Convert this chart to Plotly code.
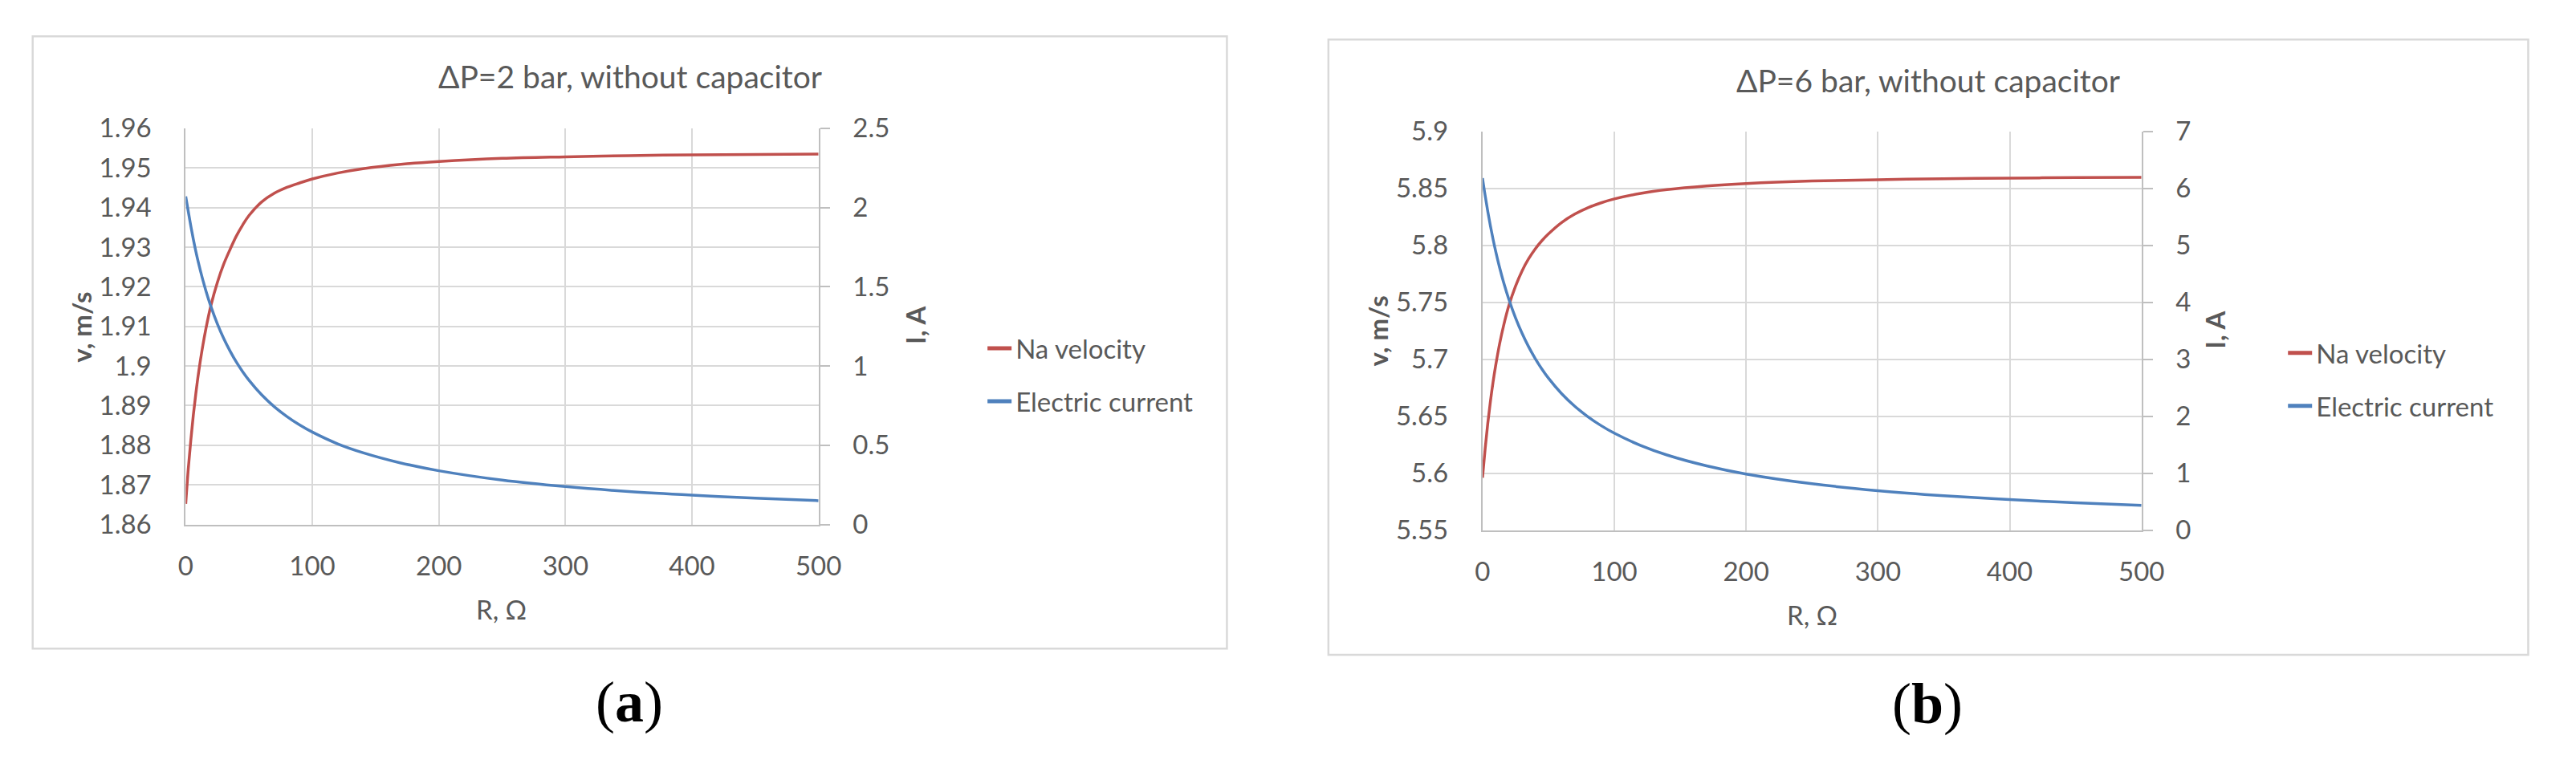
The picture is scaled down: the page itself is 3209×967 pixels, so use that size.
import plotly.graph_objects as go

W, H = 3209, 967
OFF = 8  # default body margin of the written html page

# ---------------- data ----------------
R = [0, 2, 4, 6, 8, 10, 13, 16, 20, 25, 30, 35, 40, 45, 50, 60, 70, 80, 90, 100,
     120, 140, 170, 200, 250, 300, 350, 400, 450, 500]

v_a = [1.8652, 1.8740, 1.8812, 1.8876, 1.8931, 1.8980, 1.9042, 1.9095, 1.9154, 1.9211,
       1.9257, 1.9294, 1.9328, 1.9356, 1.9380, 1.9414, 1.9436, 1.9451, 1.9462, 1.9472,
       1.9487, 1.9498, 1.9509, 1.9516, 1.9524, 1.9528, 1.9531, 1.9533, 1.9534, 1.9535]
I_a = [2.07, 1.976, 1.884, 1.80, 1.723, 1.653, 1.558, 1.473, 1.373, 1.266,
       1.174, 1.095, 1.025, 0.964, 0.910, 0.818, 0.743, 0.681, 0.628, 0.583,
       0.509, 0.453, 0.388, 0.339, 0.280, 0.239, 0.208, 0.185, 0.166, 0.150]

v_b = [5.596, 5.6214, 5.6438, 5.663, 5.6799, 5.6946, 5.7137, 5.7295, 5.7471, 5.7640,
       5.7775, 5.7882, 5.7968, 5.8040, 5.8100, 5.8200, 5.8274, 5.8330, 5.8373, 5.8407,
       5.8456, 5.8489, 5.8521, 5.8542, 5.8564, 5.8576, 5.8585, 5.8590, 5.8594, 5.8597]
I_b = [6.18, 5.875, 5.595, 5.341, 5.109, 4.896, 4.608, 4.352, 4.052, 3.730,
       3.456, 3.219, 3.013, 2.831, 2.670, 2.398, 2.176, 1.992, 1.836, 1.703,
       1.487, 1.320, 1.130, 0.987, 0.816, 0.695, 0.606, 0.537, 0.482, 0.437]

titles = ["ΔP=2 bar, without capacitor", "ΔP=6 bar, without capacitor"]
series_names = ["Na velocity", "Electric current"]
panel_labels = ["(<b>a</b>)", "(<b>b</b>)"]
x_title = "R, Ω"
y_left_title = "v, m/s"
y_right_title = "I, A"
x_ticks = [0, 100, 200, 300, 400, 500]
ya_left_ticks = [1.86, 1.87, 1.88, 1.89, 1.90, 1.91, 1.92, 1.93, 1.94, 1.95, 1.96]
ya_left_text = ["1.86", "1.87", "1.88", "1.89", "1.9", "1.91", "1.92", "1.93", "1.94", "1.95", "1.96"]
ya_right_ticks = [0, 0.5, 1, 1.5, 2, 2.5]
yb_left_ticks = [5.55, 5.60, 5.65, 5.70, 5.75, 5.80, 5.85, 5.90]
yb_left_text = ["5.55", "5.6", "5.65", "5.7", "5.75", "5.8", "5.85", "5.9"]
yb_right_ticks = [0, 1, 2, 3, 4, 5, 6, 7]

# ---------------- styling ----------------
RED = "#C0504D"
BLUE = "#4F81BD"
TXT = "#595959"
GRID = "#D9D9D9"
AXL = "#BFBFBF"
FONT = "Lato, Carlito, Calibri, sans-serif"
FS = 33


def px(x):
    return (x - OFF) / W


def py(y):
    return 1 - (y - OFF) / H


fig = go.Figure()

line_common = dict(width=3.5, shape="spline", smoothing=1.0)

# panel a
fig.add_trace(go.Scatter(x=R, y=v_a, name=series_names[0], mode="lines",
                         line=dict(color=RED, **line_common),
                         xaxis="x", yaxis="y", legend="legend", legendgroup="a1"))
fig.add_trace(go.Scatter(x=R, y=I_a, name=series_names[1], mode="lines",
                         line=dict(color=BLUE, **line_common),
                         xaxis="x", yaxis="y2", legend="legend", legendgroup="a2"))
# panel b
fig.add_trace(go.Scatter(x=R, y=v_b, name=series_names[0], mode="lines",
                         line=dict(color=RED, **line_common),
                         xaxis="x2", yaxis="y3", legend="legend2", legendgroup="b1"))
fig.add_trace(go.Scatter(x=R, y=I_b, name=series_names[1], mode="lines",
                         line=dict(color=BLUE, **line_common),
                         xaxis="x2", yaxis="y4", legend="legend2", legendgroup="b2"))

tickfont = dict(family=FONT, size=FS, color=TXT)

xa_dom = [px(224), px(1022)]
ya_dom = [py(659.5), py(144.5)]
xb_dom = [px(1859.3), px(2690.3)]
yb_dom = [py(667), py(148.5)]


def xaxis(dom, anchor):
    return dict(domain=dom, anchor=anchor, range=[0, 500], tickvals=x_ticks,
                showgrid=True, gridcolor=GRID, gridwidth=2, zeroline=False,
                showline=True, linecolor=AXL, linewidth=2, ticks="",
                tickfont=tickfont, ticklabelstandoff=22, fixedrange=True)


def yleft(dom, anchor, rng, tv, tt):
    return dict(domain=dom, anchor=anchor, range=rng, tickvals=tv, ticktext=tt,
                showgrid=True, gridcolor=GRID, gridwidth=2, zeroline=False,
                showline=True, linecolor=AXL, linewidth=2, ticks="",
                tickfont=tickfont, ticklabelstandoff=34, fixedrange=True)


def yright(overlay, anchor, rng, tv):
    return dict(overlaying=overlay, anchor=anchor, side="right", range=rng, tickvals=tv,
                showgrid=False, zeroline=False, showline=True, linecolor=AXL, linewidth=2,
                ticks="outside", ticklen=12, tickwidth=2, tickcolor=AXL,
                tickfont=tickfont, ticklabelstandoff=22, fixedrange=True)


legend_common = dict(font=dict(family=FONT, size=FS, color=TXT), bgcolor="rgba(0,0,0,0)",
                     traceorder="grouped", tracegroupgap=20, itemsizing="constant",
                     xanchor="left", yanchor="middle")

fig.update_layout(
    width=W, height=H, autosize=False,
    margin=dict(l=0, r=0, t=0, b=0),
    paper_bgcolor="white", plot_bgcolor="white",
    font=dict(family=FONT, color=TXT),
    xaxis=xaxis(xa_dom, "y"),
    yaxis=yleft(ya_dom, "x", [1.86, 1.96], ya_left_ticks, ya_left_text),
    yaxis2=yright("y", "x", [0, 2.5], ya_right_ticks),
    xaxis2=xaxis(xb_dom, "y3"),
    yaxis3=yleft(yb_dom, "x2", [5.55, 5.90], yb_left_ticks, yb_left_text),
    yaxis4=yright("y3", "x2", [0, 7], yb_right_ticks),
    legend=dict(x=px(1230), y=py(465), **legend_common),
    legend2=dict(x=px(2870), y=py(471), **legend_common),
    showlegend=True,
)

# panel borders
for (x0, y0, x1, y1) in [(31, 25, 1537, 821), (1665, 29, 3178, 829)]:
    fig.add_shape(type="rect", xref="paper", yref="paper",
                  x0=px(x0), x1=px(x1), y0=py(y1), y1=py(y0),
                  line=dict(color=GRID, width=2.5), fillcolor="rgba(0,0,0,0)", layer="below")

ann = []
# chart titles
ann.append(dict(text=titles[0], x=px(784), y=py(77), font=dict(family=FONT, size=39, color=TXT)))
ann.append(dict(text=titles[1], x=px(2421), y=py(82), font=dict(family=FONT, size=39, color=TXT)))
# x titles
ann.append(dict(text=x_title, x=px(622), y=py(769), font=dict(family=FONT, size=FS, color=TXT)))
ann.append(dict(text=x_title, x=px(2275), y=py(777), font=dict(family=FONT, size=FS, color=TXT)))
# y titles
ann.append(dict(text="<b>" + y_left_title + "</b>", x=px(92), y=py(403), textangle=-90,
                font=dict(family=FONT, size=FS, color=TXT)))
ann.append(dict(text="<b>" + y_left_title + "</b>", x=px(1727), y=py(408), textangle=-90,
                font=dict(family=FONT, size=FS, color=TXT)))
ann.append(dict(text="<b>" + y_right_title + "</b>", x=px(1144), y=py(400), textangle=-90,
                font=dict(family=FONT, size=FS, color=TXT)))
ann.append(dict(text="<b>" + y_right_title + "</b>", x=px(2782), y=py(406), textangle=-90,
                font=dict(family=FONT, size=FS, color=TXT)))
# panel labels
ann.append(dict(text=panel_labels[0], x=px(783), y=py(891),
                font=dict(family="Liberation Serif, Times New Roman, serif", size=72, color="black")))
ann.append(dict(text=panel_labels[1], x=px(2420), y=py(893),
                font=dict(family="Liberation Serif, Times New Roman, serif", size=72, color="black")))

for a in ann:
    a.update(xref="paper", yref="paper", xanchor="center", yanchor="middle", showarrow=False)
    fig.add_annotation(**a)

fig.write_html("out.html")
